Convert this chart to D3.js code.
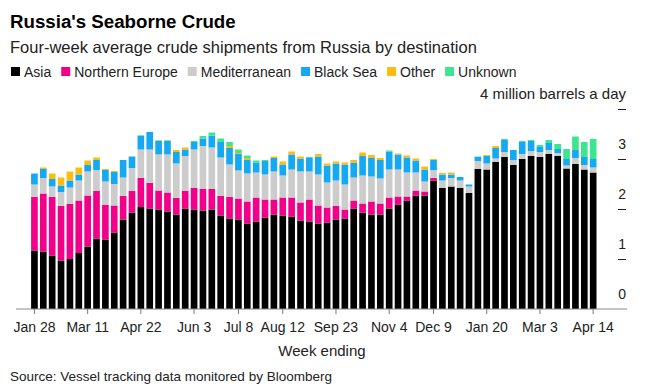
<!DOCTYPE html>
<html>
<head>
<meta charset="utf-8">
<script src="https://cdn.jsdelivr.net/npm/d3@7"></script>
<style>
  body { margin: 0; background: #fff; }
  svg text { font-family: "Liberation Sans", Arial, sans-serif; }
</style>
</head>
<body>
<div id="chart"></div>
<script>
// Weekly dates (week ending Fridays), Jan 28 2022 .. Apr 14 2023
const weeks = d3.timeFriday.range(new Date(2022, 0, 28), new Date(2023, 3, 15));
const tickLabels = ["Jan 28", "Mar 11", "Apr 22", "Jun 3", "Jul 8", "Aug 12", "Sep 23",
                    "Nov 4", "Dec 9", "Jan 20", "Mar 3", "Apr 14"];
const yTicks = [0, 1, 2, 3, 4];

const keys = ["Asia", "Northern Europe", "Mediterranean", "Black Sea", "Other", "Unknown"];
const colors = ["#000000", "#f2008a", "#cccccc", "#14a9f1", "#fbbd10", "#3de68e"];

// million barrels a day, four-week average
const asia = [1.17,1.15,1.07,0.97,1.00,1.12,1.25,1.41,1.39,1.53,1.79,1.93,2.04,2.01,1.99,1.95,
              1.89,2.01,1.99,1.97,1.99,1.87,1.81,1.79,1.71,1.75,1.83,1.89,1.87,1.85,1.77,1.75,
              1.71,1.73,1.79,1.81,2.01,1.93,1.89,1.89,2.01,2.09,2.17,2.27,2.27,2.57,2.42,2.45,
              2.42,2.32,2.80,2.79,2.94,3.04,2.88,3.00,3.06,3.04,3.10,3.06,2.81,2.90,2.79,2.73];
const northernEurope = [1.07,1.16,1.17,1.09,1.10,1.05,1.02,0.95,0.69,0.54,0.47,0.43,0.58,0.51,0.38,0.38,
              0.33,0.35,0.43,0.43,0.41,0.39,0.43,0.42,0.44,0.48,0.36,0.30,0.36,0.38,0.36,0.44,
              0.36,0.30,0.27,0.18,0.16,0.18,0.26,0.22,0.22,0.16,0.08,0.10,0.08,0.05,0,0,
              0,0,0,0,0,0,0,0,0,0,0,0,0,0,0,0];
const mediterranean = [0.25,0.31,0.21,0.28,0.33,0.40,0.48,0.42,0.47,0.43,0.37,0.46,0.57,0.67,0.72,0.76,
              0.69,0.70,0.77,0.86,0.83,0.77,0.65,0.56,0.56,0.50,0.50,0.56,0.44,0.56,0.62,0.56,
              0.62,0.50,0.51,0.50,0.46,0.56,0.50,0.50,0.56,0.54,0.48,0.36,0.20,0.16,0.15,0.17,
              0.15,0.13,0.16,0.12,0.07,0.10,0.10,0.10,0.10,0.10,0.08,0.06,0.06,0.12,0.09,0.10];
const blackSea = [0.22,0.18,0.15,0.13,0.14,0.12,0.13,0.20,0.23,0.24,0.35,0.23,0.28,0.35,0.27,0.27,
              0.23,0.13,0.15,0.15,0.24,0.31,0.33,0.33,0.28,0.20,0.27,0.27,0.22,0.30,0.26,0.27,
              0.36,0.34,0.34,0.40,0.30,0.39,0.37,0.37,0.36,0.30,0.30,0.24,0.24,0.20,0.12,0.07,
              0.07,0.04,0.08,0.15,0.21,0.24,0.20,0.24,0.20,0.10,0.14,0.08,0.13,0.16,0.16,0.17];
const other = [0,0.03,0.11,0.16,0.18,0.14,0.09,0.05,0.02,0.02,0,0,0,0,0.01,0.01,
              0.04,0.04,0,0,0,0,0.04,0.02,0.03,0,0,0.03,0.06,0.06,0.04,0,
              0.05,0.04,0.04,0.04,0.05,0.07,0.06,0.04,0,0.02,0.04,0.04,0.06,0.02,0.03,0.04,
              0,0,0,0.02,0.04,0,0,0,0,0,0,0,0,0,0,0];
const unknown = [0,0,0,0,0,0,0,0,0,0,0,0,0,0,0.01,0.01,
              0,0,0.02,0.05,0.06,0.07,0.08,0.07,0.05,0.04,0.02,0,0,0,0,0.02,
              0,0,0,0,0,0,0,0,0.02,0,0,0,0,0,0,0,
              0,0,0.01,0,0,0.02,0,0.02,0.02,0.04,0.06,0.10,0.20,0.27,0.30,0.40];

const fmt = d3.timeFormat("%b %-d");
const series = [asia, northernEurope, mediterranean, blackSea, other, unknown];
const table = weeks.map((d, i) => {
    const row = { week: fmt(d) };
    keys.forEach((k, j) => { row[k] = series[j][i]; });
    return row;
});

const W = 647, H = 390;
const svg = d3.select("#chart").append("svg")
    .attr("width", W)
    .attr("height", H);

// Title block
svg.append("text")
    .attr("x", 10).attr("y", 28)
    .style("font-size", "18.7px").style("font-weight", "bold").style("fill", "#000")
    .text("Russia's Seaborne Crude");
svg.append("text")
    .attr("x", 10).attr("y", 53)
    .style("font-size", "16.5px").style("fill", "#222")
    .text("Four-week average crude shipments from Russia by destination");

// Legend
const legend = svg.append("g").attr("transform", "translate(11,77)");
let lx = 0;
keys.forEach((k, i) => {
    const g = legend.append("g").attr("transform", `translate(${lx},0)`);
    g.append("rect")
        .attr("x", 0).attr("y", -10)
        .attr("width", 9).attr("height", 9)
        .attr("fill", colors[i]);
    const t = g.append("text")
        .attr("x", 13).attr("y", 0)
        .style("font-size", "14px").style("fill", "#222")
        .text(k);
    lx += 13 + t.node().getComputedTextLength() + 10;
});

// Scales
const x = d3.scaleBand()
    .domain(table.map(d => d.week))
    .range([30, 597.6])
    .paddingInner(0.25)
    .paddingOuter(0.125);

const y = d3.scaleLinear()
    .domain([0, 4])
    .range([309, 109]);

const stack = d3.stack().keys(keys);
const layers = stack(table);

svg.append("g")
    .selectAll("g")
    .data(layers)
    .join("g")
    .attr("fill", (d, i) => colors[i])
    .selectAll("rect")
    .data(d => d)
    .join("rect")
    .attr("x", d => x(d.data.week))
    .attr("y", d => y(d[1]))
    .attr("width", x.bandwidth())
    .attr("height", d => Math.max(0, y(d[0]) - y(d[1])));

// X axis
const xAxis = svg.append("g")
    .attr("transform", `translate(0,${y(0)})`)
    .call(d3.axisBottom(x).tickValues(tickLabels).tickSize(5).tickSizeOuter(0).tickPadding(8));
xAxis.select(".domain").remove();
xAxis.selectAll(".tick line").attr("stroke", "#777");
xAxis.selectAll(".tick text")
    .style("font-size", "14px").style("fill", "#222")
    .style("font-family", "'Liberation Sans', Arial, sans-serif");

svg.append("line")
    .attr("x1", 16).attr("x2", 627)
    .attr("y1", y(0)).attr("y2", y(0))
    .attr("stroke", "#888").attr("stroke-width", 1);

// Y axis on the right
const yAxis = svg.append("g");
yAxis.selectAll("line")
    .data(yTicks.filter(v => v > 0))
    .join("line")
    .attr("x1", 618).attr("x2", 626)
    .attr("y1", d => y(d) + 0.5).attr("y2", d => y(d) + 0.5)
    .attr("stroke", "#222");
yAxis.selectAll("text")
    .data(yTicks)
    .join("text")
    .attr("x", 626)
    .attr("y", d => y(d) - 10)
    .attr("text-anchor", "end")
    .style("font-size", d => d === 4 ? "15px" : "14px").style("fill", "#222")
    .text(d => d === 4 ? "4 million barrels a day" : d);

svg.append("text")
    .attr("x", 322).attr("y", 356)
    .attr("text-anchor", "middle")
    .style("font-size", "15px").style("fill", "#222")
    .text("Week ending");

svg.append("text")
    .attr("x", 10).attr("y", 381)
    .style("font-size", "13.5px").style("fill", "#222")
    .text("Source: Vessel tracking data monitored by Bloomberg");
</script>
</body>
</html>
